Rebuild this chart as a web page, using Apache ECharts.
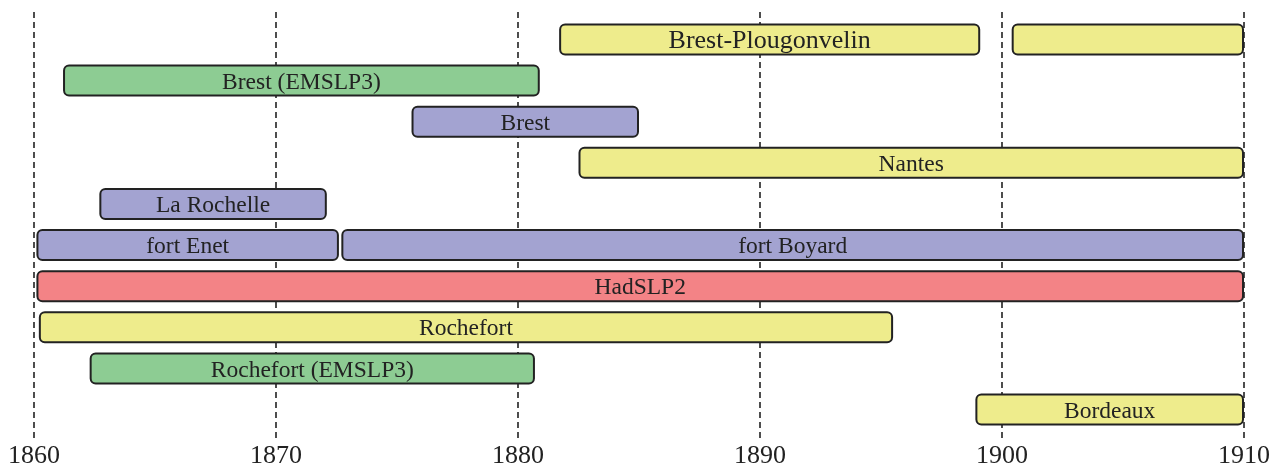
<!DOCTYPE html>
<html>
<head>
<meta charset="utf-8">
<script src="https://cdn.jsdelivr.net/npm/echarts@6/dist/echarts.min.js"></script>
<style>
  html, body { margin: 0; padding: 0; background: #fff; }
  #chart { width: 1284px; height: 471px; }
</style>
</head>
<body>
<div id="chart"></div>
<script>
// one entry per bar segment
var stationNames = ['Brest-Plougonvelin', 'Brest-Plougonvelin', 'Brest (EMSLP3)', 'Brest', 'Nantes', 'La Rochelle',
  'fort Enet', 'fort Boyard', 'HadSLP2', 'Rochefort', 'Rochefort (EMSLP3)', 'Bordeaux'];
var rowIndex = [0, 0, 1, 2, 3, 4, 5, 5, 6, 7, 8, 9];
var startYear = [1881.7, 1900.4, 1861.2, 1875.6, 1882.5, 1862.7, 1860.1, 1872.7, 1860.1, 1860.2, 1862.3, 1898.9];
var endYear = [1899.1, 1910.0, 1880.9, 1885.0, 1910.0, 1872.1, 1872.6, 1910.0, 1910.0, 1895.5, 1880.7, 1910.0];
var sourceType = ['local', 'local', 'EMSLP3', 'other', 'local', 'other', 'other', 'other', 'HadSLP2', 'local', 'EMSLP3', 'local'];
var showName = [true, false, true, true, true, true, true, true, true, true, true, true];
var yearTicks = [1860, 1870, 1880, 1890, 1900, 1910];

var colors = { local: '#eeec8c', EMSLP3: '#8dcc93', other: '#a3a3d1', HadSLP2: '#f38386' };
var bigFont = { 'Brest-Plougonvelin': 26 }; // this label is drawn larger in the original

var data = stationNames.map(function (n, i) {
  return [rowIndex[i], startYear[i], endYear[i], i];
});

var chart = echarts.init(document.getElementById('chart'));
chart.setOption({
  animation: false,
  grid: { left: 34, right: 40, top: 12, bottom: 31 },
  xAxis: {
    type: 'value',
    min: yearTicks[0],
    max: yearTicks[yearTicks.length - 1],
    interval: 10,
    axisLine: { show: false },
    axisTick: { show: false },
    axisLabel: {
      fontFamily: 'Liberation Serif', fontSize: 26, color: '#222', margin: 3,
      formatter: function (v) { return String(v); }
    },
    splitLine: { show: true, showMinLine: true, showMaxLine: true, lineStyle: { color: '#222', width: 1.6, type: [6, 4] } }
  },
  yAxis: {
    type: 'value',
    inverse: true,
    min: -0.669,
    max: 9.742,
    show: false,
    splitLine: { show: false }
  },
  series: [{
    type: 'custom',
    encode: { x: [1, 2], y: 0 },
    data: data,
    renderItem: function (params, api) {
      var i = api.value(3);
      var s = api.coord([api.value(1), api.value(0)]);
      var e = api.coord([api.value(2), api.value(0)]);
      var h = 30;
      var children = [{
        type: 'rect',
        shape: { x: s[0] + 1, y: s[1] - h / 2, width: e[0] - s[0] - 2, height: h, r: 5 },
        style: { fill: colors[sourceType[i]], stroke: '#222', lineWidth: 2 }
      }];
      if (showName[i]) {
        var name = stationNames[i];
        children.push({
          type: 'text',
          style: {
            text: name,
            x: (s[0] + e[0]) / 2,
            y: s[1] + 2,
            align: 'center',
            verticalAlign: 'middle',
            fontFamily: 'Liberation Serif',
            fontSize: bigFont[name] || 23.5,
            fill: '#222'
          }
        });
      }
      return { type: 'group', children: children };
    }
  }]
});
</script>
</body>
</html>
